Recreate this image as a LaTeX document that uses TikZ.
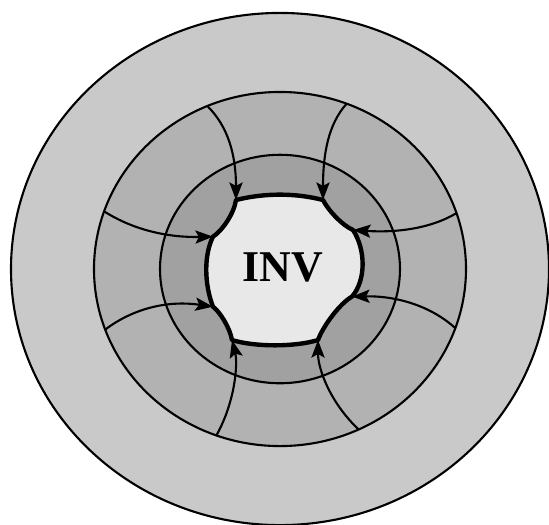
\documentclass[tikz,border=0pt]{standalone}
\usepackage{fontspec}
\setmainfont{Liberation Serif}
\usetikzlibrary{arrows.meta}
\definecolor{zoneout}{gray}{0.79}
\definecolor{zonemid}{gray}{0.70}
\definecolor{zonein}{gray}{0.63}
\definecolor{zoneinv}{gray}{0.91}
\tikzset{
  ring/.style={draw=black, line width=1.2pt},
  flow/.style={line width=1.2pt, -{Stealth[length=10pt,width=7.5pt,inset=2pt]}},
  invline/.style={draw=black, line width=2.5pt, line join=round, fill=zoneinv},
}
\newcommand{\Rout}{269}
\newcommand{\Rmid}{186}
\newcommand{\Rin}{120}

\begin{document}
\begin{tikzpicture}[x=0.02cm, y=0.01904cm]
\useasboundingbox (-280,-268.9) rectangle (269,282.6);
\clip (-280,-268.9) rectangle (269,282.6);
% zones
\draw[ring, fill=zoneout] (0,0) circle[radius=\Rout];
\draw[ring, fill=zonemid] (0,0) circle[radius=\Rmid];
\draw[ring, fill=zonein] (0,0) circle[radius=\Rin];
% start points on the middle circle
\coordinate (s1) at (113:\Rmid);
\coordinate (s2) at (69:\Rmid);
\coordinate (s3) at (18.4:\Rmid);
\coordinate (s4) at (-19.5:\Rmid);
\coordinate (s5) at (-65:\Rmid);
\coordinate (s6) at (-110:\Rmid);
\coordinate (s7) at (200:\Rmid);
\coordinate (s8) at (161:\Rmid);
% end points on the INV boundary
\coordinate (e1) at (-44,72.5);
\coordinate (e2) at (43,72.5);
\coordinate (e3) at (73,41);
\coordinate (e4) at (72,-29);
\coordinate (e5) at (38,-74.6);
\coordinate (e6) at (-48,-74.6);
\coordinate (e7) at (-67,-39.6);
\coordinate (e8) at (-67,34);
% INV boundary
\draw[invline] (e1) .. controls (-15,80) and (15,80) .. (e2)
  .. controls (48,62) and (62,46) .. (e3)
  .. controls (86,20) and (86,-12) .. (e4)
  .. controls (60,-36) and (43,-60) .. (e5)
  .. controls (15,-82) and (-25,-82) .. (e6)
  .. controls (-50,-62) and (-60,-45) .. (e7)
  .. controls (-76,-15) and (-76,15) .. (e8)
  .. controls (-58,40) and (-46,58) .. (e1) -- cycle;
\node[font=\bfseries\fontsize{25}{25}\selectfont] (inv) at (3,2) {INV};
% flow lines
\draw[flow] (s1) .. controls (-52,150) and (-44,120) .. (e1);
\draw[flow] (s2) .. controls (48,152) and (43,120) .. (e2);
\draw[flow] (s3) .. controls (150,42) and (115,38) .. (e3);
\draw[flow] (s4) .. controls (150,-38) and (115,-28) .. (e4);
\draw[flow] (s5) .. controls (50,-140) and (38,-105) .. (e5);
\draw[flow] (s6) .. controls (-45,-140) and (-42,-100) .. (e6);
\draw[flow] (s7) .. controls (-145,-40) and (-110,-33) .. (e7);
\draw[flow] (s8) .. controls (-145,40) and (-110,33) .. (e8);
\end{tikzpicture}
\end{document}
